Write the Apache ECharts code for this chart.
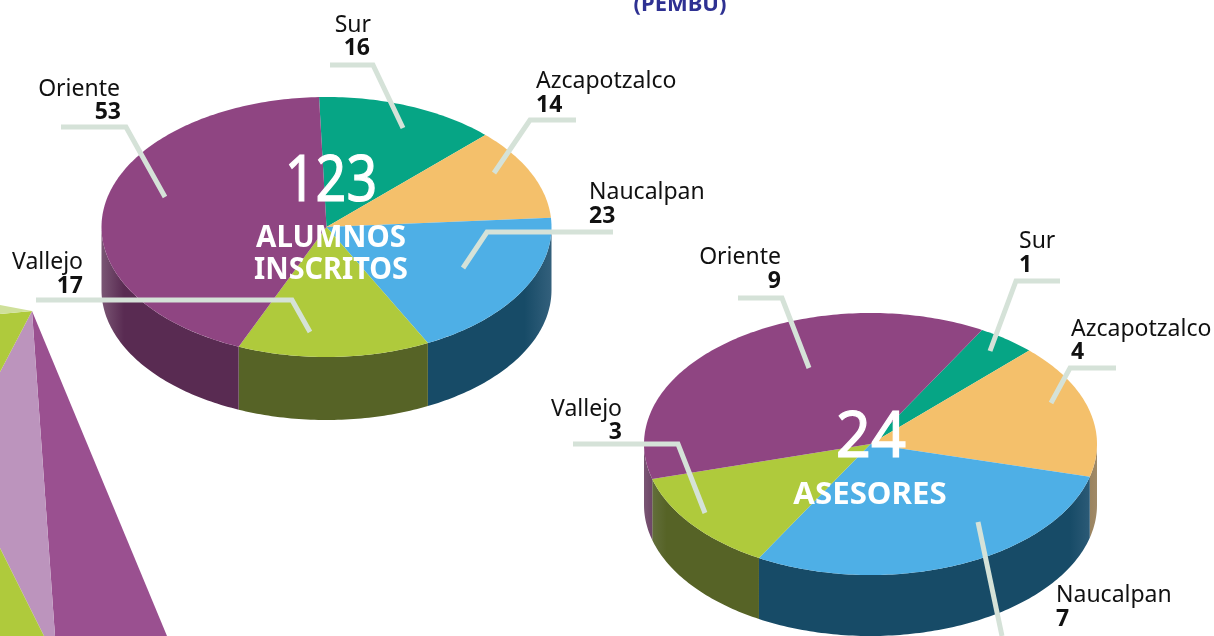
<!DOCTYPE html>
<html>
<head>
<meta charset="utf-8">
<style>
  html, body { margin: 0; padding: 0; background: #fff; }
  #chart { width: 1214px; height: 636px; }
</style>
<script src="https://cdn.jsdelivr.net/npm/echarts@6/dist/echarts.min.js"></script>
</head>
<body>
<div id="chart"></div>
<script>
// datos
const regiones = ['Sur', 'Azcapotzalco', 'Naucalpan', 'Vallejo', 'Oriente'];
const alumnos = [16, 14, 23, 17, 53];
const asesores = [1, 4, 7, 3, 9];

const colorTapa = ['#06a585', '#f4c06b', '#4eafe6', '#afca3c', '#8f4582'];
const colorLado = ['#04654f', '#8a6f45', '#174b67', '#566326', '#592b52'];
const colorBrillo = ['#3a8a78', '#a08a68', '#33607c', '#6a7548', '#7a5674'];

const FONT = '"Noto Sans", sans-serif';

let myChart = echarts.init(document.getElementById('chart'), null, { renderer: 'canvas' });

function arco(pie, a, b) {
  // a y b en grados, sentido horario desde arriba
  let pts = [];
  let n = Math.max(2, Math.ceil(Math.abs(b - a)));
  for (let k = 0; k <= n; k++) {
    let t = (a + (b - a) * k / n) * Math.PI / 180;
    pts.push([pie.cx + pie.rx * Math.sin(t), pie.cy - pie.ry * Math.cos(t)]);
  }
  return pts;
}

function serieTarta(pie, valores) {
  let total = valores.reduce((s, v) => s + v, 0);
  return {
    type: 'custom',
    coordinateSystem: 'none',
    silent: true,
    animation: false,
    data: regiones.map((r, i) => ({ name: r, value: valores[i] })),
    renderItem(params, api) {
      let i = params.dataIndex;
      let prev = valores.slice(0, i).reduce((s, v) => s + v, 0);
      let a = pie.inicio + prev / total * 360;
      let b = a + valores[i] / total * 360;
      let children = [];

      // pared lateral: solo la mitad de abajo se ve
      let wa = Math.max(a, 90), wb = Math.min(b, 270);
      if (wb > wa) {
        let borde = arco(pie, wa, wb);
        let abajo = borde.map(p => [p[0], p[1] + pie.alto]).reverse();
        children.push({
          type: 'polygon',
          shape: { points: borde.concat(abajo) },
          style: {
            fill: new echarts.graphic.LinearGradient(pie.cx - pie.rx, 0, pie.cx + pie.rx, 0, [
              { offset: 0, color: colorBrillo[i] },
              { offset: 0.05, color: colorLado[i] },
              { offset: 0.94, color: colorLado[i] },
              { offset: 1, color: colorBrillo[i] }
            ], true)
          }
        });
      }

      // tapa
      children.push({
        type: 'polygon',
        shape: { points: [[pie.cx, pie.cy]].concat(arco(pie, a, b)) },
        style: { fill: colorTapa[i] }
      });
      return { type: 'group', children: children };
    }
  };
}

function etiqueta(texto, x, y, align, bold) {
  return {
    type: 'text',
    z: 20,
    silent: true,
    style: {
      text: String(texto),
      x: x,
      y: y + 1,
      align: align,
      verticalAlign: 'middle',
      fill: '#111',
      font: (bold ? 'bold ' : '') + '23px ' + FONT
    }
  };
}

function guia(points) {
  return {
    type: 'polyline',
    z: 10,
    silent: true,
    shape: { points: points },
    style: { stroke: '#d5e2d8', lineWidth: 5, fill: null, lineJoin: 'miter' }
  };
}

function textoCentro(texto, x, y, size, weight, scaleX, grosor) {
  return {
    type: 'text',
    z: 15,
    silent: true,
    x: x,
    y: y,
    scaleX: scaleX,
    style: {
      text: String(texto),
      x: 0,
      y: 0,
      align: 'center',
      verticalAlign: 'middle',
      fill: '#fff',
      stroke: grosor ? '#fff' : null,
      lineWidth: grosor || 0,
      font: weight + ' ' + size + 'px ' + FONT
    }
  };
}

function triangulo(points, color) {
  return { type: 'polygon', z: 1, silent: true, shape: { points: points }, style: { fill: color } };
}

const pieAlumnos = { cx: 326.5, cy: 227, rx: 225, ry: 130, alto: 63, inicio: -1.9 };
const pieAsesores = { cx: 870.5, cy: 444, rx: 226.5, ry: 131, alto: 61, inicio: 29.5 };

let totalAlumnos = alumnos.reduce((s, v) => s + v, 0);
let totalAsesores = asesores.reduce((s, v) => s + v, 0);

let optionMap = {
  animation: false,
  backgroundColor: '#fff',
  series: [serieTarta(pieAlumnos, alumnos), serieTarta(pieAsesores, asesores)],
  graphic: { elements: [
    // adorno de la izquierda
    triangulo([[32, 311], [167, 636], [55, 636]], '#9a5090'),
    triangulo([[32, 311], [55, 636], [44, 636], [0, 548], [0, 372]], '#bc94bd'),
    triangulo([[32, 311], [0, 372], [0, 314]], '#afca3c'),
    triangulo([[0, 305], [32, 311], [0, 314]], '#cfe09a'),
    triangulo([[0, 548], [44, 636], [0, 636]], '#afca3c'),

    // titulo cortado
    {
      type: 'text', z: 20, silent: true,
      style: { text: '(PEMBU)', x: 680, y: 5, align: 'center', verticalAlign: 'middle', fill: '#2e3192', font: 'bold 22px ' + FONT }
    },

    // guias alumnos
    guia([[330, 65], [373, 65], [403, 128]]),
    guia([[576, 120], [530, 120], [494, 173]]),
    guia([[613, 232], [487, 232], [463, 268]]),
    guia([[36, 300], [292, 300], [310, 332]]),
    guia([[61, 127], [126, 127], [165, 197]]),

    // guias asesores
    guia([[1060, 281], [1016, 281], [990, 351]]),
    guia([[1116, 368], [1070, 368], [1051, 403]]),
    guia([[978, 522], [1002, 636]]),
    guia([[573, 444], [678, 444], [705, 513]]),
    guia([[738, 298], [782, 298], [809, 368]]),

    // etiquetas alumnos
    etiqueta(regiones[0], 371, 24, 'right'), etiqueta(alumnos[0], 370, 47, 'right', true),
    etiqueta(regiones[1], 536, 80, 'left'), etiqueta(alumnos[1], 536, 104, 'left', true),
    etiqueta(regiones[2], 589, 191, 'left'), etiqueta(alumnos[2], 589, 215, 'left', true),
    etiqueta(regiones[3], 83, 261, 'right'), etiqueta(alumnos[3], 83, 285, 'right', true),
    etiqueta(regiones[4], 120, 88, 'right'), etiqueta(alumnos[4], 121, 111, 'right', true),

    // etiquetas asesores
    etiqueta(regiones[0], 1019, 240, 'left'), etiqueta(asesores[0], 1019, 264, 'left', true),
    etiqueta(regiones[1], 1071, 328, 'left'), etiqueta(asesores[1], 1071, 351, 'left', true),
    etiqueta(regiones[2], 1056, 594, 'left'), etiqueta(asesores[2], 1056, 618, 'left', true),
    etiqueta(regiones[3], 622, 408, 'right'), etiqueta(asesores[3], 622, 431, 'right', true),
    etiqueta(regiones[4], 781, 256, 'right'), etiqueta(asesores[4], 781, 280, 'right', true),

    // textos centrales
    textoCentro(totalAlumnos, 331, 183, 64, 'normal', 0.84, 1.2),
    textoCentro('ALUMNOS', 331, 238, 30, 'bold', 0.98),
    textoCentro('INSCRITOS', 331, 270, 30, 'bold', 0.96),
    textoCentro(totalAsesores, 871, 439, 64, 'normal', 0.96, 1.2),
    textoCentro('ASESORES', 870, 495, 30, 'bold', 1.04)
  ] }
};

myChart.setOption(optionMap);
</script>
</body>
</html>
